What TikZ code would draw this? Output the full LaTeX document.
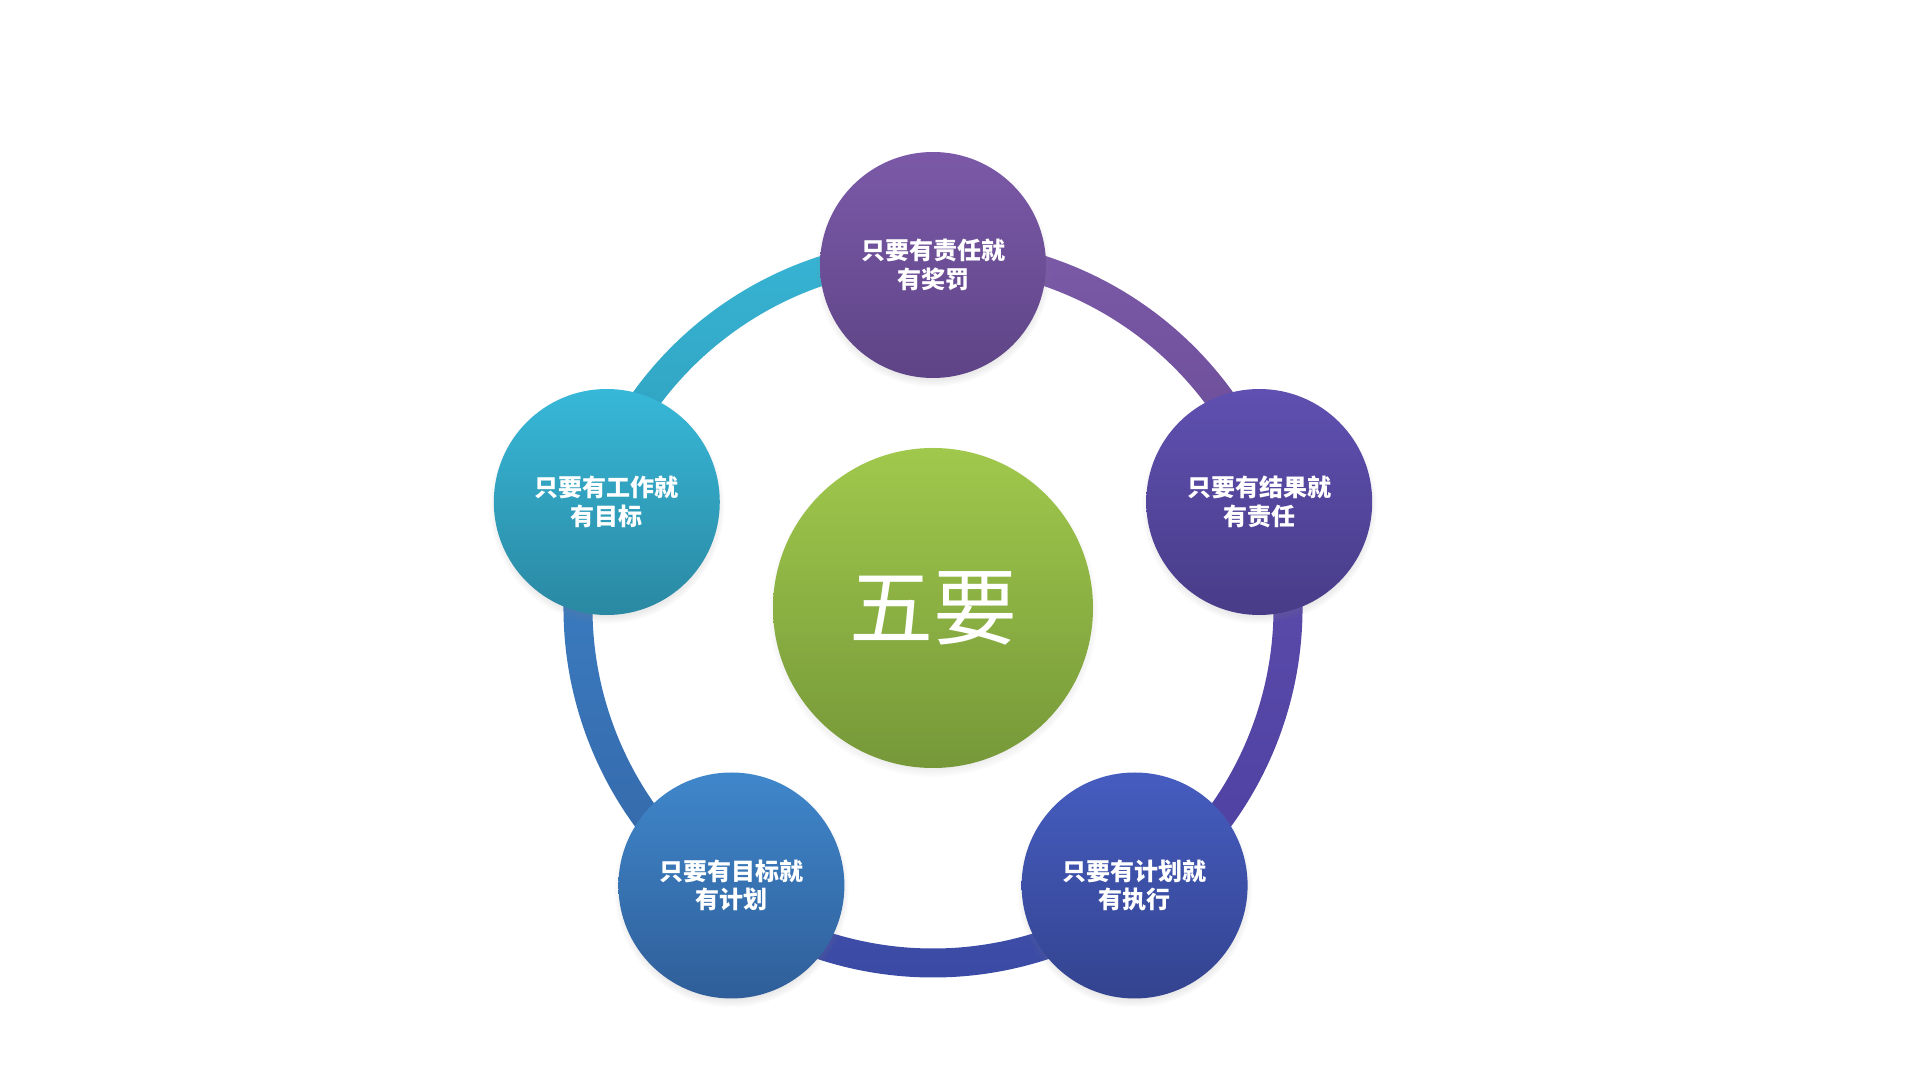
\documentclass[tikz,border=0pt]{standalone}
\usepackage{fontspec}
\newfontfamily\cjk{Noto Sans CJK SC}
\usetikzlibrary{shadows,calc}
\definecolor{topT}{HTML}{7B59A8}\definecolor{topB}{HTML}{5E4486}
\definecolor{rgtT}{HTML}{5F50B1}\definecolor{rgtB}{HTML}{483C88}
\definecolor{brT}{HTML}{465DC0}\definecolor{brB}{HTML}{33438F}
\definecolor{blT}{HTML}{3F87CB}\definecolor{blB}{HTML}{2F5E99}
\definecolor{lftT}{HTML}{37B8D8}\definecolor{lftB}{HTML}{2A88A2}
\definecolor{cenT}{HTML}{A0C84C}\definecolor{cenB}{HTML}{769839}
\definecolor{rA1}{HTML}{38B4D4}\definecolor{rA2}{HTML}{2E9EBB}
\definecolor{rB1}{HTML}{7B5AA8}\definecolor{rB2}{HTML}{694B96}
\definecolor{rC1}{HTML}{5D4DAD}\definecolor{rC2}{HTML}{4D40A0}
\definecolor{rD1}{HTML}{3F50AC}\definecolor{rD2}{HTML}{3A48A2}
\definecolor{rE1}{HTML}{3C80C5}\definecolor{rE2}{HTML}{3467A8}
\tikzset{
  bubble/.style={circle, minimum size=226pt, inner sep=0pt, text=white, align=center,
    font=\cjk\bfseries\fontsize{24}{28.5}\selectfont,
    circular drop shadow={shadow xshift=0pt, shadow yshift=-4pt, shadow scale=1.04, opacity=0.35}},
  hub/.style={circle, minimum size=320pt, inner sep=0pt, text=white,
    font=\cjk\fontsize{84}{84}\selectfont,
    circular drop shadow={shadow xshift=0pt, shadow yshift=-4pt, shadow scale=1.03, opacity=0.35}}
}
\begin{document}
\begin{tikzpicture}[x=1pt,y=1pt]
\fill[white] (0,0) rectangle (1919,1079);
\useasboundingbox (0,0) rectangle (1919,1079);
\coordinate (C) at (933,471);
% ring segments
\foreach \a/\b/\ct/\cb in {162/90/rA1/rA2, 90/18/rB1/rB2, 18/-54/rC1/rC2, -54/-126/rD1/rD2, 234/162/rE1/rE2}{
  \shade[top color=\ct, bottom color=\cb]
    ($(C)+(\a:340.5)$) arc[start angle=\a, end angle=\b, radius=340.5]
    -- ($(C)+(\b:369.5)$) arc[start angle=\b, end angle=\a, radius=369.5] -- cycle;
}
\node[hub, top color=cenT, bottom color=cenB] (center) at (C) {五要};
\node[bubble, top color=topT, bottom color=topB] (top) at ($(C)+(90:343)$) {只要有责任就\\有奖罚};
\node[bubble, top color=rgtT, bottom color=rgtB] (right) at ($(C)+(18:343)$) {只要有结果就\\有责任};
\node[bubble, top color=brT, bottom color=brB] (bright) at ($(C)+(-54:343)$) {只要有计划就\\有执行};
\node[bubble, top color=blT, bottom color=blB] (bleft) at ($(C)+(-126:343)$) {只要有目标就\\有计划};
\node[bubble, top color=lftT, bottom color=lftB] (left) at ($(C)+(162:343)$) {只要有工作就\\有目标};
\end{tikzpicture}
\end{document}
